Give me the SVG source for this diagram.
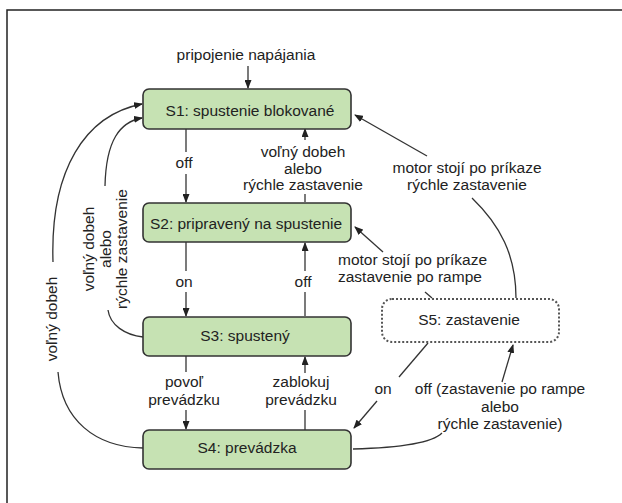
<svg xmlns="http://www.w3.org/2000/svg" width="622" height="503" viewBox="0 0 622 503">
<style>
text{font-family:"Liberation Sans",Arial,sans-serif;font-size:15.5px;fill:#222}
.m{text-anchor:middle}
.box{fill:#c6e2b3;stroke:#333;stroke-width:1.6}
.dot{fill:#fff;stroke:#555;stroke-width:2;stroke-dasharray:2 2}
.c{fill:none;stroke:#333;stroke-width:1.3}
.a{marker-end:url(#ah)}
</style>
<defs>
<marker id="ah" markerWidth="9" markerHeight="7" refX="8" refY="3.5" orient="auto" markerUnits="userSpaceOnUse">
<path d="M0,0 L9,3.5 L0,7 z" fill="#222"/>
</marker>
</defs>
<rect width="622" height="503" fill="#fff"/>
<path d="M7,503 V10 H622" fill="none" stroke="#222" stroke-width="1.5"/>
<g id="connectors">
<path class="c a" d="M248,66 V88"/>
<path class="c" d="M186,129 V152"/>
<path class="c a" d="M186,174 V202"/>
<path class="c a" d="M305,140 V129"/>
<path class="c" d="M305,202 V194"/>
<path class="c" d="M186,242 V271"/>
<path class="c a" d="M186,292 V316"/>
<path class="c" d="M305,316 V292"/>
<path class="c a" d="M305,271 V243"/>
<path class="c" d="M186,356 V372"/>
<path class="c a" d="M186,410 V429"/>
<path class="c" d="M305,430 V410"/>
<path class="c a" d="M305,373 V357"/>
<path class="c" d="M143,337 C125,335 110,325 108,310"/>
<path class="c a" d="M105,186 C106,140 120,122 142,118"/>
<path class="c" d="M143,448 C95,447 62,420 58,372"/>
<path class="c a" d="M53,262 C50,170 85,115 142,104"/>
<path class="c" d="M516,298 C516,255 500,225 472,198"/>
<path class="c a" d="M427,156 L355,115"/>
<path class="c" d="M432,298 L425,292"/>
<path class="c a" d="M383,252 L355,227"/>
<path class="c" d="M428,343 L399,377"/>
<path class="c a" d="M377,401 L354,428"/>
<path class="c" d="M353,449 C390,448 430,445 442,433"/>
<path class="c a" d="M502,382 L513,345"/>
</g>
<g id="S1"><rect class="box" x="143" y="89" width="208" height="40" rx="6"/><text class="m" x="250" y="116">S1: spustenie blokované</text></g>
<g id="S2"><rect class="box" x="143" y="203" width="208" height="39" rx="6"/><text class="m" x="246" y="229">S2: pripravený na spustenie</text></g>
<g id="S3"><rect class="box" x="143" y="317" width="208" height="39" rx="6"/><text class="m" x="245" y="341">S3: spustený</text></g>
<g id="S4"><rect class="box" x="143" y="430" width="208" height="39" rx="6"/><text class="m" x="247" y="453">S4: prevádzka</text></g>
<g id="S5"><rect class="dot" x="382" y="299" width="177" height="43" rx="10"/><text class="m" x="469" y="325">S5: zastavenie</text></g>
<g id="labels">
<text class="m" x="246" y="60">pripojenie napájania</text>
<text class="m" x="184" y="168">off</text>
<text class="m" x="303" y="157">voľný dobeh<tspan x="303" dy="16.5">alebo</tspan><tspan x="303" dy="16.5">rýchle zastavenie</tspan></text>
<text class="m" x="467" y="173">motor stojí po príkaze<tspan x="467" dy="16.5">rýchle zastavenie</tspan></text>
<text class="m" x="184" y="287">on</text>
<text class="m" x="303" y="287">off</text>
<text x="338" y="265">motor stojí po príkaze<tspan x="338" dy="16.5">zastavenie po rampe</tspan></text>
<text class="m" x="184" y="387">povoľ<tspan x="184" dy="17.5">prevádzku</tspan></text>
<text class="m" x="301" y="387">zablokuj<tspan x="301" dy="17.5">prevádzku</tspan></text>
<text class="m" x="383" y="394">on</text>
<text class="m" x="500" y="394">off (zastavenie po rampe<tspan x="500" dy="17.5">alebo</tspan><tspan x="500" dy="17.5">rýchle zastavenie)</tspan></text>
<text class="m" transform="translate(57,319) rotate(-90)">voľný dobeh</text>
<text class="m" transform="translate(94,249) rotate(-90)">voľný dobeh<tspan x="0" dy="16.5">alebo</tspan><tspan x="0" dy="16.5">rýchle zastavenie</tspan></text>
</g>
</svg>
